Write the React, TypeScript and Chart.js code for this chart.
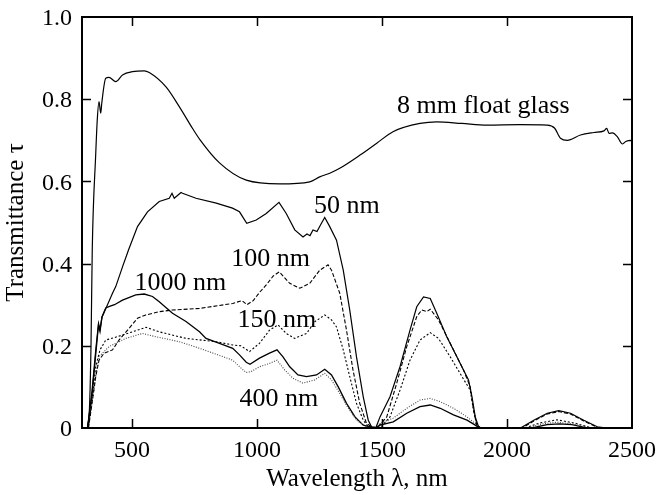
import { useEffect, useRef } from "react";
import { Chart, registerables } from "chart.js";

Chart.register(...registerables);

// Wavelength (nm) and transmittance for each sample
const floatGlassWl = [322, 330, 336, 341, 355, 361, 368, 375, 379, 395, 408, 435, 462, 502, 549, 569, 636, 689, 743, 770, 850, 957, 1091, 1211, 1251, 1291, 1331, 1412, 1479, 1544, 1652, 1719, 1820, 1920, 2050, 2161, 2190, 2214, 2241, 2294, 2348, 2388, 2399, 2408, 2422, 2441, 2462, 2475, 2495, 2500];
const floatGlassT = [0, 0.05, 0.2, 0.433, 0.668, 0.749, 0.794, 0.766, 0.79, 0.851, 0.853, 0.843, 0.859, 0.867, 0.869, 0.865, 0.83, 0.782, 0.728, 0.703, 0.645, 0.603, 0.594, 0.599, 0.611, 0.62, 0.632, 0.664, 0.693, 0.721, 0.741, 0.745, 0.741, 0.737, 0.738, 0.737, 0.73, 0.705, 0.7, 0.713, 0.719, 0.723, 0.729, 0.717, 0.718, 0.709, 0.691, 0.697, 0.7, 0.695];

const nm50Wl = [322, 340, 355, 366, 372, 380, 395, 422, 435, 462, 486, 522, 562, 609, 649, 660, 669, 696, 702, 756, 837, 902, 930, 959, 997, 1037, 1088, 1117, 1151, 1184, 1200, 1212, 1224, 1240, 1255, 1271, 1291, 1318, 1345, 1371, 1398, 1425, 1445, 1458, 1475, 1492, 1532, 1572, 1612, 1639, 1666, 1693, 1719, 1759, 1813, 1846, 1860, 1873, 1886, 1900, 2054, 2107, 2161, 2207, 2254, 2307, 2361, 2400];
const nm50T = [0, 0.09, 0.19, 0.255, 0.24, 0.27, 0.29, 0.328, 0.344, 0.392, 0.433, 0.49, 0.526, 0.551, 0.559, 0.571, 0.559, 0.573, 0.571, 0.559, 0.547, 0.535, 0.526, 0.498, 0.506, 0.522, 0.549, 0.522, 0.482, 0.465, 0.472, 0.468, 0.482, 0.478, 0.495, 0.512, 0.49, 0.457, 0.384, 0.287, 0.173, 0.076, 0.019, 0.003, 0, 0.027, 0.076, 0.149, 0.238, 0.295, 0.319, 0.315, 0.279, 0.222, 0.157, 0.117, 0.076, 0.027, 0.003, 0, 0, 0.019, 0.036, 0.042, 0.036, 0.019, 0.003, 0];

const nm100Wl = [326, 340, 355, 368, 388, 422, 448, 489, 522, 555, 609, 662, 770, 903, 940, 960, 985, 1010, 1037, 1065, 1089, 1131, 1171, 1211, 1251, 1284, 1298, 1331, 1358, 1384, 1411, 1438, 1458, 1480, 1519, 1559, 1599, 1639, 1659, 1679, 1693, 1726, 1773, 1826, 1853, 1866, 1879, 1895, 2060, 2107, 2161, 2207, 2254, 2307, 2361, 2400];
const nm100T = [0, 0.06, 0.125, 0.165, 0.182, 0.19, 0.214, 0.243, 0.267, 0.275, 0.283, 0.287, 0.291, 0.303, 0.31, 0.3, 0.31, 0.33, 0.348, 0.37, 0.38, 0.352, 0.34, 0.352, 0.384, 0.397, 0.384, 0.328, 0.238, 0.141, 0.06, 0.011, 0.003, 0, 0.027, 0.109, 0.198, 0.271, 0.287, 0.283, 0.289, 0.263, 0.206, 0.141, 0.1, 0.044, 0.007, 0, 0, 0.017, 0.034, 0.04, 0.034, 0.017, 0.002, 0];

const nm150Wl = [325, 340, 355, 372, 395, 430, 502, 556, 609, 716, 836, 903, 935, 970, 1010, 1050, 1084, 1117, 1151, 1198, 1232, 1271, 1298, 1318, 1345, 1371, 1398, 1425, 1445, 1470, 1500, 1532, 1572, 1612, 1652, 1693, 1726, 1773, 1820, 1853, 1866, 1879, 1895, 2070, 2130, 2200, 2270, 2340];
const nm150T = [0, 0.07, 0.15, 0.19, 0.214, 0.22, 0.234, 0.245, 0.234, 0.218, 0.21, 0.202, 0.2, 0.186, 0.206, 0.238, 0.251, 0.23, 0.218, 0.23, 0.259, 0.275, 0.263, 0.246, 0.19, 0.125, 0.06, 0.019, 0.003, 0, 0.005, 0.027, 0.092, 0.165, 0.214, 0.232, 0.218, 0.173, 0.125, 0.092, 0.044, 0.007, 0, 0, 0.012, 0.02, 0.012, 0];

const nm400Wl = [325, 345, 360, 370, 408, 475, 542, 596, 689, 770, 903, 930, 957, 975, 1010, 1050, 1080, 1111, 1144, 1184, 1231, 1271, 1298, 1331, 1365, 1398, 1432, 1460, 1492, 1545, 1599, 1652, 1693, 1733, 1786, 1840, 1873, 1890, 2080, 2140, 2200, 2260, 2330];
const nm400T = [0, 0.08, 0.15, 0.175, 0.198, 0.218, 0.23, 0.222, 0.21, 0.194, 0.165, 0.149, 0.135, 0.137, 0.149, 0.157, 0.165, 0.141, 0.121, 0.109, 0.117, 0.133, 0.117, 0.084, 0.048, 0.019, 0.005, 0, 0.011, 0.024, 0.048, 0.068, 0.072, 0.064, 0.048, 0.027, 0.011, 0, 0, 0.01, 0.014, 0.01, 0];

const nm1000Wl = [322, 340, 355, 366, 372, 380, 395, 410, 430, 462, 515, 549, 582, 609, 662, 716, 770, 796, 850, 903, 930, 957, 972, 1010, 1050, 1080, 1104, 1131, 1164, 1198, 1238, 1271, 1298, 1325, 1358, 1392, 1425, 1452, 1475, 1492, 1545, 1599, 1652, 1693, 1733, 1786, 1840, 1873, 1890, 2100, 2160, 2210, 2260, 2320];
const nm1000T = [0, 0.08, 0.18, 0.25, 0.235, 0.27, 0.292, 0.296, 0.3, 0.311, 0.324, 0.326, 0.32, 0.307, 0.279, 0.259, 0.234, 0.218, 0.206, 0.194, 0.178, 0.16, 0.155, 0.17, 0.182, 0.19, 0.173, 0.149, 0.129, 0.125, 0.129, 0.143, 0.129, 0.1, 0.06, 0.027, 0.007, 0.003, 0, 0.007, 0.015, 0.036, 0.052, 0.056, 0.048, 0.032, 0.019, 0.007, 0, 0, 0.008, 0.01, 0.008, 0];

// Axis ticks
const xTickValues = [500, 1000, 1500, 2000, 2500];
const xTickLabels = ["500", "1000", "1500", "2000", "2500"];
const yTickValues = [0, 0.2, 0.4, 0.6, 0.8, 1.0];
const yTickLabels = ["0", "0.2", "0.4", "0.6", "0.8", "1.0"];

// Curve labels, placed at (wavelength, transmittance) of the text baseline centre
const labelTexts = ["8 mm float glass", "50 nm", "100 nm", "1000 nm", "150 nm", "400 nm"];
const labelWl = [1905, 1359, 1054, 693, 1079, 1087];
const labelT = [0.766, 0.523, 0.394, 0.336, 0.246, 0.054];

const SERIF = "'Liberation Serif', 'Times New Roman', serif";
const X_MIN = 300;
const X_MAX = 2500;
const TICK_LEN = 9;

const toPoints = (wl: number[], t: number[]) => wl.map((w, i) => ({ x: w, y: t[i] }));

const framePlugin = {
  id: "frameAndLabels",
  afterDatasetsDraw(chart: any) {
    const { ctx, chartArea: a, scales } = chart;
    const xs = scales.x;
    const ys = scales.y;
    ctx.save();
    ctx.strokeStyle = "#000";
    ctx.lineWidth = 1.5;
    ctx.beginPath();
    xTickValues
      .filter((v) => v > X_MIN && v < X_MAX)
      .forEach((v) => {
        const px = Math.round(xs.getPixelForValue(v)) + 0.5;
        ctx.moveTo(px, a.bottom);
        ctx.lineTo(px, a.bottom - TICK_LEN);
        ctx.moveTo(px, a.top);
        ctx.lineTo(px, a.top + TICK_LEN);
      });
    yTickValues
      .filter((v) => v > 0 && v < 1)
      .forEach((v) => {
        const py = Math.round(ys.getPixelForValue(v)) + 0.5;
        ctx.moveTo(a.left, py);
        ctx.lineTo(a.left + TICK_LEN, py);
        ctx.moveTo(a.right, py);
        ctx.lineTo(a.right - TICK_LEN, py);
      });
    ctx.stroke();
    ctx.lineWidth = 2;
    ctx.strokeRect(a.left, a.top, a.right - a.left, a.bottom - a.top);

    ctx.fillStyle = "#000";
    ctx.font = `26px ${SERIF}`;
    ctx.textAlign = "center";
    ctx.textBaseline = "alphabetic";
    labelTexts.forEach((txt, i) => {
      ctx.fillText(txt, xs.getPixelForValue(labelWl[i]), ys.getPixelForValue(labelT[i]));
    });
    ctx.restore();
  },
};

export default function App() {
  const canvasRef = useRef<HTMLCanvasElement>(null);

  useEffect(() => {
    const canvas = canvasRef.current;
    if (!canvas) return;
    const line = (
      label: string,
      wl: number[],
      t: number[],
      dash: number[],
      color: string,
      width: number,
      smooth = false
    ) => ({
      label,
      data: toPoints(wl, t),
      borderColor: color,
      borderWidth: width,
      borderDash: dash,
      pointRadius: 0,
      tension: smooth ? 0.4 : 0,
      cubicInterpolationMode: smooth ? "monotone" : "default",
      fill: false,
    });

    const chart = new Chart(canvas, {
      type: "line",
      data: {
        datasets: [
          line("8 mm float glass", floatGlassWl, floatGlassT, [], "#000", 1.2, true),
          line("50 nm", nm50Wl, nm50T, [], "#000", 1.2),
          line("100 nm", nm100Wl, nm100T, [4, 2], "#000", 1.1),
          line("150 nm", nm150Wl, nm150T, [2, 2], "#000", 1.1),
          line("400 nm", nm400Wl, nm400T, [1, 1.5], "#444", 1.1),
          line("1000 nm", nm1000Wl, nm1000T, [], "#000", 1.3),
        ],
      },
      options: {
        animation: false,
        responsive: false,
        devicePixelRatio: 1,
        layout: { padding: { left: 0, top: 17, right: 26, bottom: 0 } },
        plugins: { legend: { display: false }, tooltip: { enabled: false } },
        scales: {
          x: {
            type: "linear",
            min: X_MIN,
            max: X_MAX,
            grid: { display: false, drawTicks: false },
            border: { display: false },
            afterBuildTicks: (scale: any) => {
              scale.ticks = xTickValues.map((v) => ({ value: v }));
            },
            afterFit: (scale: any) => {
              scale.height = 67;
              scale.paddingLeft = 0;
              scale.paddingRight = 0;
            },
            ticks: {
              autoSkip: false,
              maxRotation: 0,
              padding: 8,
              color: "#000",
              font: { family: SERIF, size: 24 },
              callback: (v: any) => {
                const i = xTickValues.indexOf(Number(v));
                return i >= 0 ? xTickLabels[i] : "";
              },
            },
            title: {
              display: true,
              text: "Wavelength λ, nm",
              color: "#000",
              font: { family: SERIF, size: 25, lineHeight: 1 },
              padding: { top: 0, bottom: 3 },
            },
          },
          y: {
            type: "linear",
            min: 0,
            max: 1,
            grid: { display: false, drawTicks: false },
            border: { display: false },
            afterBuildTicks: (scale: any) => {
              scale.ticks = yTickValues.map((v) => ({ value: v }));
            },
            afterFit: (scale: any) => {
              scale.width = 82;
              scale.paddingTop = 0;
              scale.paddingBottom = 0;
            },
            ticks: {
              autoSkip: false,
              padding: 10,
              labelOffset: 2,
              color: "#000",
              font: { family: SERIF, size: 24 },
              callback: (v: any) => {
                const i = yTickValues.findIndex((t) => Math.abs(t - Number(v)) < 1e-9);
                return i >= 0 ? yTickLabels[i] : "";
              },
            },
            title: {
              display: true,
              text: "Transmittance τ",
              color: "#000",
              font: { family: SERIF, size: 25, lineHeight: 1 },
              padding: { top: 4, bottom: 0 },
            },
          },
        },
      },
      plugins: [framePlugin],
    } as any);

    return () => chart.destroy();
  }, []);

  return (
    <div style={{ position: "fixed", left: 0, top: 0, width: 658, height: 495, background: "#fff" }}>
      <canvas ref={canvasRef} width={658} height={495} style={{ display: "block" }} />
    </div>
  );
}
